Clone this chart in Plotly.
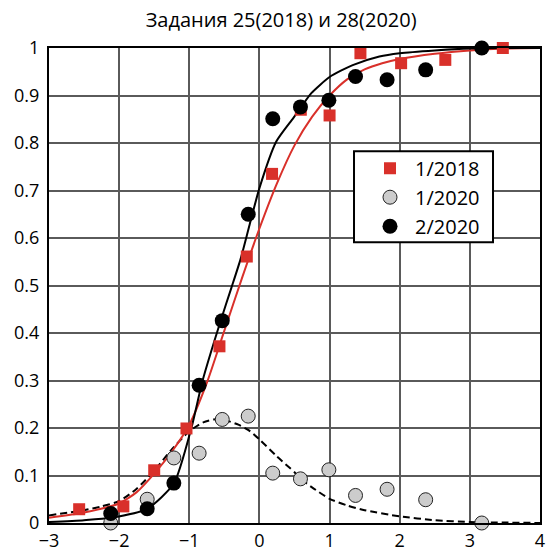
import plotly.graph_objects as go

# --- data ---
x_2018 = [-2.57, -1.94, -1.5, -1.04, -0.57, -0.18, 0.18, 0.59, 1.0, 1.44, 2.02, 2.65, 3.47]
y_1_2018 = [0.029, 0.035, 0.111, 0.199, 0.372, 0.561, 0.735, 0.87, 0.858, 0.989, 0.968, 0.975, 1.0]

x_2020 = [-2.12, -1.6, -1.22, -0.86, -0.53, -0.16, 0.19, 0.585, 0.99, 1.37, 1.82, 2.37, 3.17]
y_1_2020 = [0.0, 0.05, 0.137, 0.147, 0.218, 0.225, 0.105, 0.093, 0.112, 0.058, 0.071, 0.049, 0.0]
y_2_2020 = [0.02, 0.03, 0.084, 0.29, 0.426, 0.65, 0.851, 0.876, 0.89, 0.94, 0.933, 0.954, 1.0]

red_curve_x = [-3, -2.5, -2, -1.75, -1.5, -1.25, -1.0, -0.75, -0.5, -0.25, 0.0, 0.25, 0.5, 0.75, 1.0, 1.25, 1.5, 1.75, 2.0, 2.5, 3.0, 3.5, 4.0]
red_curve_y = [0.011, 0.022, 0.041, 0.065, 0.104, 0.15, 0.207, 0.295, 0.405, 0.515, 0.62, 0.715, 0.795, 0.855, 0.9, 0.934, 0.955, 0.968, 0.977, 0.988, 0.995, 0.999, 1.0]

black_curve_x = [-3, -2.5, -2.12, -1.6, -1.22, -0.97, -0.81, -0.55, -0.4, -0.27, -0.14, 0.0, 0.24, 0.48, 0.6, 0.74, 1.0, 1.33, 1.71, 2.0, 2.5, 3.0, 4.0]
black_curve_y = [0.002, 0.006, 0.011, 0.03, 0.083, 0.2, 0.3, 0.427, 0.495, 0.555, 0.628, 0.705, 0.803, 0.852, 0.877, 0.905, 0.939, 0.964, 0.982, 0.989, 0.995, 0.999, 1.0]

dash_curve_x = [-3, -2.5, -2.25, -2, -1.75, -1.5, -1.25, -1, -0.8, -0.65, -0.5, -0.3, -0.15, 0, 0.25, 0.5, 0.6, 0.75, 1, 1.25, 1.5, 2, 2.5, 3, 3.5, 4]
dash_curve_y = [0.016, 0.027, 0.035, 0.046, 0.072, 0.11, 0.155, 0.193, 0.212, 0.218, 0.217, 0.207, 0.195, 0.176, 0.14, 0.107, 0.092, 0.075, 0.051, 0.037, 0.027, 0.014, 0.006, 0.002, 0.001, 0.0]

x_ticks = [-3, -2, -1, 0, 1, 2, 3, 4]
y_ticks = [0, 0.1, 0.2, 0.3, 0.4, 0.5, 0.6, 0.7, 0.8, 0.9, 1]
y_tick_text = ["0", "0.1", "0.2", "0.3", "0.4", "0.5", "0.6", "0.7", "0.8", "0.9", "1"]

title = "Задания 25(2018) и 28(2020)"
names = ["1/2018", "1/2020", "2/2020"]

RED = "#d9302a"
FONT = "Open Sans"
GRID = "#5a5a5a"

fig = go.Figure()

fig.add_trace(go.Scatter(x=dash_curve_x, y=dash_curve_y, mode="lines", showlegend=False,
                         line=dict(color="black", width=2, dash="7px,4px", shape="spline", smoothing=0.6),
                         hoverinfo="skip"))
fig.add_trace(go.Scatter(x=red_curve_x, y=red_curve_y, mode="lines", showlegend=False,
                         line=dict(color=RED, width=2, shape="spline", smoothing=0.6),
                         hoverinfo="skip"))
fig.add_trace(go.Scatter(x=black_curve_x, y=black_curve_y, mode="lines", showlegend=False,
                         line=dict(color="black", width=2, shape="spline", smoothing=0.6),
                         hoverinfo="skip"))

fig.add_trace(go.Scatter(x=x_2018, y=y_1_2018, mode="markers", name=names[0],
                         marker=dict(symbol="square", size=12, color=RED, line=dict(width=0)),
                         cliponaxis=False))
fig.add_trace(go.Scatter(x=x_2020, y=y_1_2020, mode="markers", name=names[1],
                         marker=dict(symbol="circle", size=14, color="#cccccc",
                                     line=dict(width=1, color="#222222")),
                         cliponaxis=False))
fig.add_trace(go.Scatter(x=x_2020, y=y_2_2020, mode="markers", name=names[2],
                         marker=dict(symbol="circle", size=15, color="black", line=dict(width=0)),
                         cliponaxis=False))

# legend frame
fig.add_shape(type="rect", xref="paper", yref="paper", x0=0.6212, x1=0.9043, y0=0.591, y1=0.7825,
              fillcolor="white", line=dict(color="black", width=2), layer="above")

fig.update_layout(
    width=548, height=547,
    margin=dict(l=49, r=8, t=48, b=24, pad=0, autoexpand=False),
    paper_bgcolor="white", plot_bgcolor="white",
    font=dict(family=FONT, color="black", size=18),
    title=dict(text=title, x=0.513, xanchor="center", y=0.963, yanchor="middle",
               font=dict(family=FONT, size=20, color="black"), automargin=False),
    legend=dict(x=0.6436, y=0.788, xanchor="left", yanchor="top",
                bgcolor="rgba(0,0,0,0)", borderwidth=0,
                font=dict(family=FONT, size=20, color="black"),
                itemwidth=40),
    xaxis=dict(range=[-3, 4], tickmode="array", tickvals=x_ticks, automargin=False,
               showgrid=True, gridcolor=GRID, gridwidth=1.6,
               showline=True, linecolor="black", linewidth=2, mirror=True,
               ticks="", zeroline=False, tickfont=dict(size=18)),
    yaxis=dict(range=[0, 1], tickmode="array", tickvals=y_ticks, ticktext=y_tick_text, automargin=False,
               showgrid=True, gridcolor=GRID, gridwidth=1.6,
               showline=True, linecolor="black", linewidth=2, mirror=True,
               ticks="outside", ticklen=4, tickcolor="rgba(0,0,0,0)",
               zeroline=False, tickfont=dict(size=18)),
)

fig.write_html("out.html", config={"displayModeBar": False},
               post_script="document.body.style.margin='0px';document.body.style.overflow='hidden';")
